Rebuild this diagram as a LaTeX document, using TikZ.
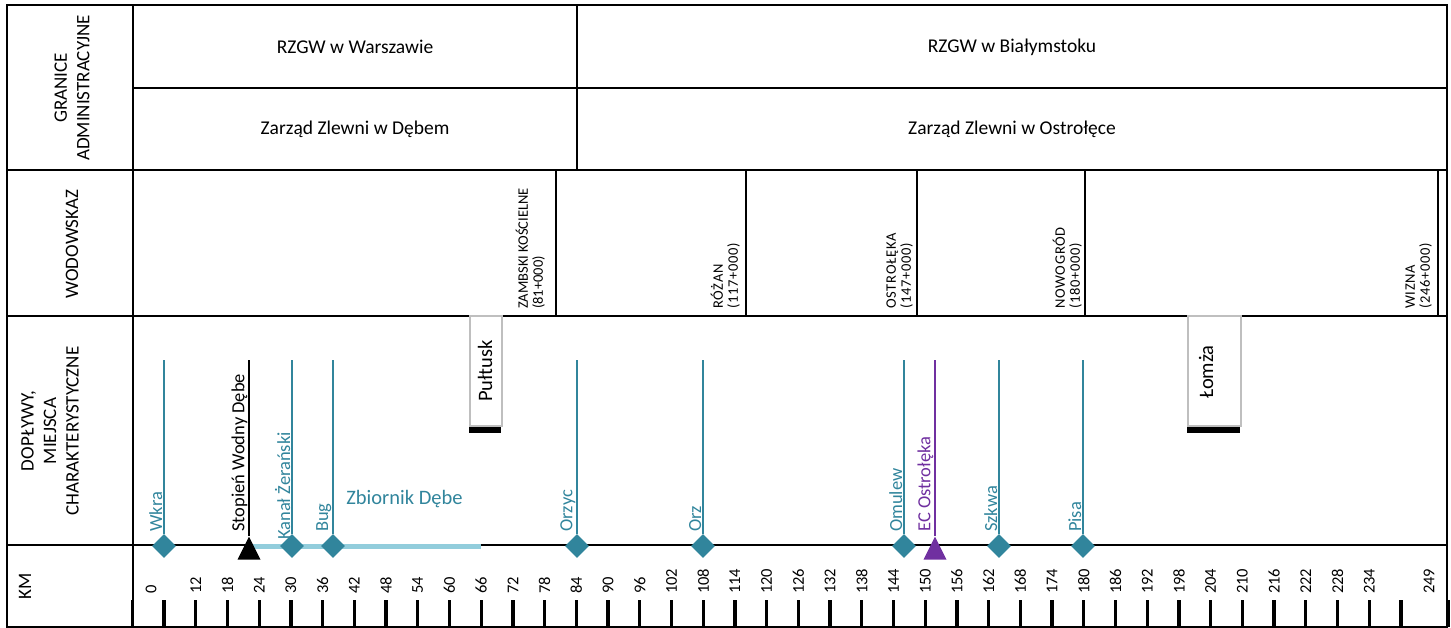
\documentclass[tikz,border=0pt]{standalone}
\usepackage{fontspec}
\setmainfont{Carlito}
\usetikzlibrary{shapes.geometric}
\definecolor{rivteal}{HTML}{31859C}
\definecolor{resblue}{HTML}{92CDDC}
\definecolor{ecpurple}{HTML}{7030A0}
\definecolor{boxgrey}{HTML}{BFBFBF}
\tikzset{
  frame/.style={line width=2.5pt, line cap=rect, black},
  hdr/.style={inner sep=0pt, font=\fontsize{19.5}{23}\selectfont},
  rowlab/.style={rotate=90, align=center, inner sep=0pt, font=\fontsize{19}{22.5}\selectfont},
  wlab/.style={rotate=90, anchor=south west, align=left, inner sep=0pt, font=\fontsize{14.5}{15}\selectfont},
  wlabsp/.style={wlab, font=\fontsize{14.5}{15}\selectfont\addfontfeature{LetterSpace=5}},
  kmlab/.style={rotate=90, anchor=west, inner sep=0pt, font=\fontsize{16.5}{18}\selectfont},
  tick/.style={line width=3.3pt, black},
  trib/.style={line width=2.5pt, rivteal},
  flab/.style={rotate=90, anchor=south west, inner sep=0pt, font=\fontsize{18.5}{20}\selectfont, text=rivteal},
  diam/.style={diamond, fill=rivteal, inner sep=0pt, minimum size=24pt},
  tri/.style={isosceles triangle, isosceles triangle stretches, shape border rotate=90,
              inner sep=0pt, minimum width=23pt, minimum height=23pt, anchor=apex},
  townbox/.style={draw=boxgrey, line width=1.5pt, fill=white, minimum width=32pt, minimum height=110pt, inner sep=0pt},
  townlab/.style={rotate=90, inner sep=0pt, font=\fontsize{20.5}{22}\selectfont},
  resbar/.style={line width=5pt, resblue}
}
\begin{document}
\begin{tikzpicture}[x=1pt,y=-1pt]
\useasboundingbox (0,0) rectangle (1451,628);
% ---------- table frame ----------
\draw[frame] (7,5) rectangle (1447,627);
\draw[frame] (133,5) -- (133,627);
\draw[frame] (133,88) -- (1447,88);
\draw[frame] (7,170) -- (1447,170);
\draw[frame] (7,316) -- (1447,316);
\draw[frame] (7,545) -- (1447,545);
\draw[frame] (577,5) -- (577,170);
\foreach \xx in {556,746,917,1085,1438} \draw[frame] (\xx,170) -- (\xx,316);
% ---------- headers ----------
\node[hdr] (rzgwW) at (355,47) {RZGW w Warszawie};
\node[hdr] (rzgwB) at (1012,47) {RZGW w Białymstoku};
\node[hdr] (zzD) at (355,129) {Zarząd Zlewni w Dębem};
\node[hdr] (zzO) at (1012,129) {Zarząd Zlewni w Ostrołęce};
% ---------- row labels ----------
\node[rowlab] (granice) at (72,88) {GRANICE\\ADMINISTRACYJNE};
\node[rowlab] (wodow) at (72,244) {WODOWSKAZ};
\node[rowlab] (doplywy) at (50,431) {DOPŁYWY,\\MIEJSCA\\CHARAKTERYSTYCZNE};
\node[rowlab] (kmrow) at (25,586) {KM};
% ---------- gauges ----------
\node[wlab] (zambski) at (545,309) {ZAMBSKI KOŚCIELNE\\(81+000)};
\node[wlabsp] (rozan) at (740,309) {RÓŻAN\\(117+000)};
\node[wlabsp] (ostroleka) at (913,309) {OSTROŁĘKA\\(147+000)};
\node[wlabsp] (nowogrod) at (1082,309) {NOWOGRÓD\\(180+000)};
\node[wlabsp] (wizna) at (1432,309) {WIZNA\\(246+000)};
% ---------- km scale ----------
\foreach \k in {0,6,...,240,249} {
  \pgfmathsetmacro{\xx}{132.3+5.286*\k}
  \draw[tick] (\xx,600) -- (\xx,627);
}
\foreach \k in {12,18,...,234} {
  \pgfmathsetmacro{\xx}{132.3+5.286*\k}
  \node[kmlab] at (\xx,594) {\k};
}
\node[kmlab] (kmzero) at (151,594) {0};
\node[kmlab] (kmend) at (1429,594) {249};
% ---------- towns ----------
\node[townbox] (pultusk) at (486,371) {};
\fill (pultusk.south west) rectangle ++(32,6);
\node[townlab] (pultuskT) at (485,371) {Pułtusk};
\node[townbox, minimum width=53pt] (lomza) at (1214.5,371) {};
\fill (lomza.south west) rectangle ++(53,6);
\node[townlab] (lomzaT) at (1206,372) {Łomża};
% ---------- reservoir ----------
\coordinate (zbA) at (249,546.5);
\coordinate (zbB) at (481,546.5);
\draw[resbar] (zbA) -- (zbB);
\node[anchor=base, inner sep=0pt, text=rivteal, font=\fontsize{20.5}{22}\selectfont] (zbT) at (404.5,504) {Zbiornik Dębe};
% ---------- tributaries ----------
\foreach \nm/\xx in {wkra/164, kanal/292, bug/333, orzyc/577, orz/703, omulew/904, szkwa/999, pisa/1083} {
  \coordinate (\nm top) at (\xx,360);
  \node[diam] (\nm) at (\xx,546) {};
  \draw[trib] (\nm top) -- (\nm.north);
}
\coordinate (stopientop) at (249,360);
\node[tri, fill=black] (stopien) at (249,536) {};
\draw[line width=2.5pt, black] (stopientop) -- (stopien.apex);
\coordinate (ectop) at (935,360);
\node[tri, fill=ecpurple] (ec) at (935,536) {};
\draw[line width=2.5pt, ecpurple] (ectop) -- (ec.apex);
% ---------- labels ----------
\node[flab] (wkraL) at (162.5,532) {Wkra};
\node[flab, text=black] (stopienL) at (247.5,532) {Stopień Wodny Dębe};
\node[flab] (kanalL) at (290.5,540) {Kanał Żerański};
\node[flab] (bugL) at (331.5,532) {Bug};
\node[flab] (orzycL) at (575.5,532) {Orzyc};
\node[flab] (orzL) at (701.5,532) {Orz};
\node[flab] (omulewL) at (902.5,532) {Omulew};
\node[flab, text=ecpurple] (ecL) at (933.5,532) {EC Ostrołęka};
\node[flab] (szkwaL) at (997.5,532) {Szkwa};
\node[flab] (pisaL) at (1081.5,532) {Pisa};
\end{tikzpicture}
\end{document}
